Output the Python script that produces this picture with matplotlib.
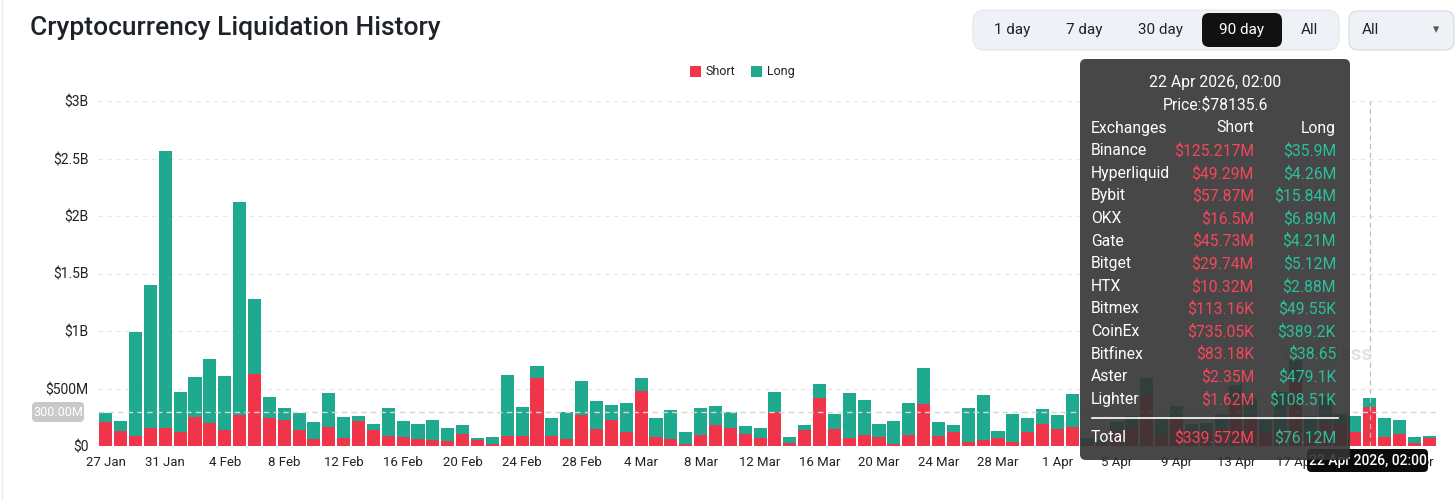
import matplotlib
matplotlib.use('Agg')
import matplotlib.pyplot as plt
from matplotlib.patches import FancyBboxPatch
from matplotlib.lines import Line2D

# ============================================================
# DATA  (daily liquidations, $M, 27 Jan -> 26 Apr 2026)
# ============================================================

short_liq = [213, 131, 87, 154, 154, 119, 253, 204, 137, 271,
             626, 242, 230, 137, 64, 166, 73, 221, 143, 84,
             79, 58, 52, 47, 108, 52, 17, 87, 87, 589,
             87, 58, 271, 152, 227, 125, 475, 82, 58, 17,
             96, 184, 160, 102, 73, 294, 29, 140, 414, 152,
             67, 96, 76, 17, 93, 367, 87, 125, 38, 52,
             73, 35, 125, 187, 152, 166, 30, 20, 130, 169,
             431, 96, 250, 110, 125, 140, 388, 250, 120, 140,
             577, 90, 200, 190, 125, 339.572, 82, 102, 29, 67]
long_liq = [72, 87, 906, 1250, 2412, 347, 347, 553, 475, 1847,
            653, 186, 102, 154, 149, 297, 180, 44, 46, 248,
            137, 131, 177, 108, 76, 21, 65, 531, 251, 111,
            155, 234, 295, 242, 132, 248, 117, 160, 257, 108,
            233, 160, 134, 73, 82, 175, 45, 41, 125, 125,
            394, 306, 114, 199, 283, 309, 120, 59, 291, 394,
            58, 239, 117, 134, 116, 289, 37, 30, 83, 96,
            161, 137, 100, 85, 73, 140, 140, 170, 107, 330,
            175, 170, 230, 90, 140, 76.12, 160, 120, 53, 20]

tick_labels = ['27 Jan', '31 Jan', '4 Feb', '8 Feb', '12 Feb', '16 Feb',
               '20 Feb', '24 Feb', '28 Feb', '4 Mar', '8 Mar', '12 Mar',
               '16 Mar', '20 Mar', '24 Mar', '28 Mar', '1 Apr', '5 Apr',
               '9 Apr', '13 Apr', '17 Apr', '21 Apr', '25 Apr']
y_ticks = [0, 500, 1000, 1500, 2000, 2500, 3000]
y_labels = ['$0', '$500M', '$1B', '$1.5B', '$2B', '$2.5B', '$3B']

# tooltip for the hovered day
hover_idx = 85
hover_title = '22 Apr 2026, 02:00'
hover_price = 'Price:$78135.6'
exchanges = ['Binance', 'Hyperliquid', 'Bybit', 'OKX', 'Gate', 'Bitget',
             'HTX', 'Bitmex', 'CoinEx', 'Bitfinex', 'Aster', 'Lighter']
ex_short = ['$125.217M', '$49.29M', '$57.87M', '$16.5M', '$45.73M', '$29.74M',
            '$10.32M', '$113.16K', '$735.05K', '$83.18K', '$2.35M', '$1.62M']
ex_long = ['$35.9M', '$4.26M', '$15.84M', '$6.89M', '$4.21M', '$5.12M',
           '$2.88M', '$49.55K', '$389.2K', '$38.65', '$479.1K', '$108.51K']
total_short = '$339.572M'
total_long = '$76.12M'

buttons = ['1 day', '7 day', '30 day', '90 day', 'All']
active_button = '90 day'

# ============================================================
# STYLE
# ============================================================

RED = '#f0354a'
GREEN = '#1fa98f'
TEXT = '#1e2329'
W, H = 1456, 500

plt.rcParams['font.family'] = ['Roboto', 'DejaVu Sans']


def fx(px):
    return px / W


def fy(py):
    return 1 - py / H


fig = plt.figure(figsize=(W / 100, H / 100), dpi=100)
fig.patch.set_facecolor('white')

ax = fig.add_axes([fx(98.3), fy(446), fx(1436.7) - fx(98.3), fy(101) - fy(446)])
x = list(range(len(short_liq)))

ax.bar(x, short_liq, width=0.88, color=RED, zorder=2)
ax.bar(x, long_liq, bottom=short_liq, width=0.88, color=GREEN, zorder=2)

ax.set_xlim(-0.5, len(x) - 0.5)
ax.set_ylim(0, 3000)
ax.set_yticks(y_ticks)
ax.set_yticklabels(y_labels)
ax.set_xticks(range(0, len(x), 4))
ax.set_xticklabels(tick_labels)
ax.tick_params(axis='both', length=0, colors=TEXT)
ax.tick_params(axis='y', pad=7, labelsize=10)
ax.tick_params(axis='x', pad=7, labelsize=9.5)
for s in ax.spines.values():
    s.set_visible(False)
ax.grid(axis='y', color='#e6e6e6', linestyle=(0, (4, 4)), linewidth=0.8, zorder=0)

# crosshair
ax.axhline(300, color='#d6d6d6', linestyle=(0, (4, 3)), linewidth=1, zorder=3)
ax.axvline(hover_idx, color='#bdbdbd', linestyle=(0, (4, 3)), linewidth=0.9, zorder=3)

# watermark
fig.text(fx(1282), fy(355), 'coinglass', fontsize=15, fontweight='bold',
         color='#e2e2e2', ha='left', va='center', zorder=0.5)

# page edge
fig.add_artist(Line2D([fx(1.5), fx(1.5)], [0, 1], color='#e8e8e8', linewidth=1))

# ============================================================
# HEADER
# ============================================================

fig.text(fx(30), fy(28), 'Cryptocurrency Liquidation History', fontsize=19,
         fontweight='medium', color=TEXT, ha='left', va='center')

fig.add_artist(FancyBboxPatch((fx(973), fy(50)), fx(366), 40 / H,
                              boxstyle='round,pad=0,rounding_size=0.008',
                              facecolor='#eef2f6', edgecolor='#e2e7ed', linewidth=0.8,
                              transform=fig.transFigure, mutation_aspect=W / H))
btn_x = [1012, 1084, 1161, 1242, 1309]
for lbl, bx in zip(buttons, btn_x):
    col = TEXT
    if lbl == active_button:
        fig.add_artist(FancyBboxPatch((fx(1202), fy(47)), fx(80), 34 / H,
                                      boxstyle='round,pad=0,rounding_size=0.005',
                                      facecolor='#111111', edgecolor='none',
                                      transform=fig.transFigure, mutation_aspect=W / H))
        col = 'white'
    fig.text(fx(bx), fy(30), lbl, fontsize=11, color=col, ha='center', va='center')

fig.add_artist(FancyBboxPatch((fx(1349), fy(50)), fx(105), 39 / H,
                              boxstyle='round,pad=0,rounding_size=0.006',
                              facecolor='#eef2f6', edgecolor='#d3dae3', linewidth=0.8,
                              transform=fig.transFigure, mutation_aspect=W / H))
fig.text(fx(1362), fy(30), 'All', fontsize=11, color=TEXT, ha='left', va='center')
fig.text(fx(1436), fy(30), '▾', fontsize=9, color='#555555', ha='center', va='center')

# legend
fig.add_artist(FancyBboxPatch((fx(690), fy(77)), fx(11), 11 / H, boxstyle='square,pad=0',
                              facecolor=RED, edgecolor='none', transform=fig.transFigure))
fig.text(fx(706), fy(71.5), 'Short', fontsize=9, color=TEXT, ha='left', va='center')
fig.add_artist(FancyBboxPatch((fx(751), fy(77)), fx(11), 11 / H, boxstyle='square,pad=0',
                              facecolor=GREEN, edgecolor='none', transform=fig.transFigure))
fig.text(fx(767), fy(71.5), 'Long', fontsize=9, color=TEXT, ha='left', va='center')

# crosshair labels
fig.add_artist(FancyBboxPatch((fx(32), fy(422)), fx(52), 20 / H,
                              boxstyle='round,pad=0,rounding_size=0.003',
                              facecolor='#c9c9c9', edgecolor='none',
                              transform=fig.transFigure, mutation_aspect=W / H))
fig.text(fx(58), fy(412), '300.00M', fontsize=9, color='white', ha='center', va='center')

fig.add_artist(FancyBboxPatch((fx(1307), fy(472)), fx(121), 23 / H,
                              boxstyle='round,pad=0,rounding_size=0.003',
                              facecolor='#0b0b0b', edgecolor='none', zorder=4,
                              transform=fig.transFigure, mutation_aspect=W / H))
fig.text(fx(1367.5), fy(460.5), hover_title, fontsize=10, fontweight='medium',
         color='white', ha='center', va='center', zorder=5)

# ============================================================
# TOOLTIP
# ============================================================

fig.add_artist(FancyBboxPatch((fx(1080), fy(460)), fx(270), 401 / H,
                              boxstyle='round,pad=0,rounding_size=0.004',
                              facecolor='#333333', edgecolor='none', alpha=0.9, zorder=6,
                              transform=fig.transFigure, mutation_aspect=W / H))
TFS = 11.3
fig.text(fx(1215), fy(82.5), hover_title, fontsize=TFS, color='white',
         ha='center', va='center', zorder=7)
fig.text(fx(1215), fy(105), hover_price, fontsize=TFS, color='white',
         ha='center', va='center', zorder=7)
fig.text(fx(1091), fy(128), 'Exchanges', fontsize=TFS, color='white', ha='left', va='center', zorder=7)
fig.text(fx(1254), fy(128), 'Short', fontsize=TFS, color='white', ha='right', va='center', zorder=7)
fig.text(fx(1336), fy(128), 'Long', fontsize=TFS, color='white', ha='right', va='center', zorder=7)

row_y = 150.7
for name, sv, lv in zip(exchanges, ex_short, ex_long):
    fig.text(fx(1091), fy(row_y), name, fontsize=TFS, color='white', ha='left', va='center', zorder=7)
    fig.text(fx(1254), fy(row_y), sv, fontsize=TFS, color='#f5465a', ha='right', va='center', zorder=7)
    fig.text(fx(1336), fy(row_y), lv, fontsize=TFS, color='#2bbf9c', ha='right', va='center', zorder=7)
    row_y += 22.6

fig.add_artist(Line2D([fx(1092), fx(1338)], [fy(418), fy(418)], color='white',
                      linewidth=1.2, zorder=7))
fig.text(fx(1091), fy(438), 'Total', fontsize=TFS, color='white', ha='left', va='center', zorder=7)
fig.text(fx(1254), fy(438), total_short, fontsize=TFS, color='#f5465a', ha='right', va='center', zorder=7)
fig.text(fx(1336), fy(438), total_long, fontsize=TFS, color='#2bbf9c', ha='right', va='center', zorder=7)

fig.savefig('out.png', dpi=100)
